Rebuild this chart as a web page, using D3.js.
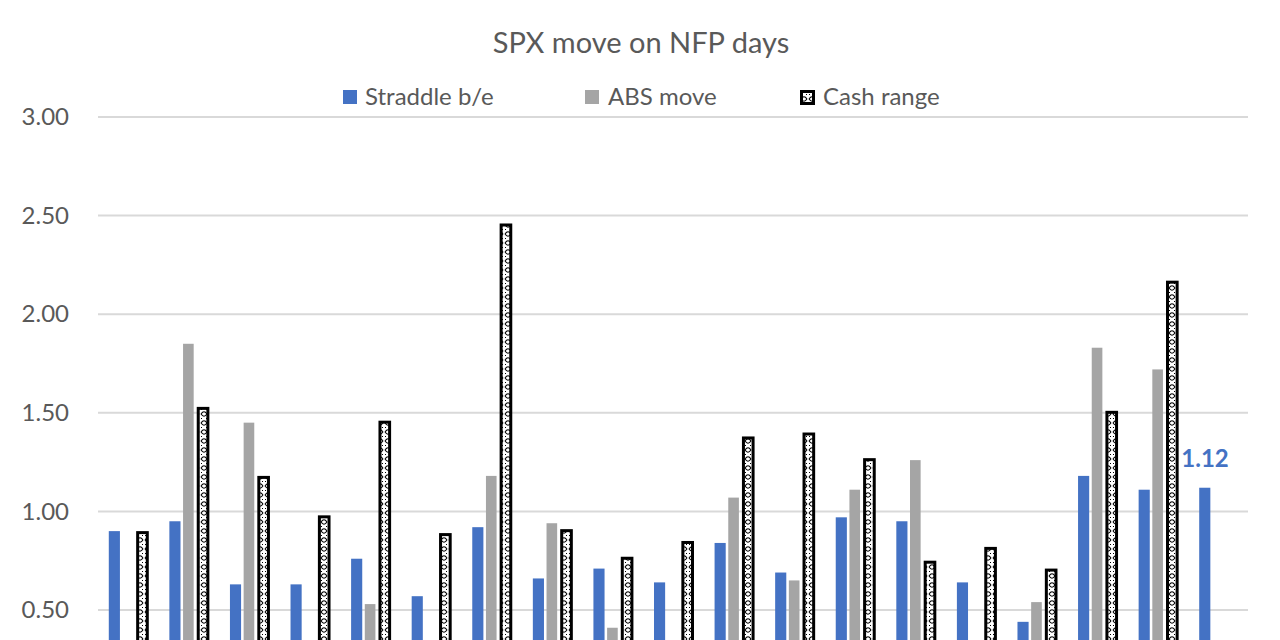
<!DOCTYPE html>
<html><head><meta charset="utf-8">
<script src="https://cdn.jsdelivr.net/npm/d3@7"></script>
<style>html,body{margin:0;padding:0;background:#fff;overflow:hidden}</style>
</head><body>
<svg id="c" width="1280" height="640"></svg>
<script>
const categories = d3.range(1, 20).map(String);
const straddle = [0.90,0.95,0.63,0.63,0.76,0.57,0.92,0.66,0.71,0.64,0.84,0.69,0.97,0.95,0.64,0.44,1.18,1.11,1.12];
const absMove  = [0.25,1.85,1.45,0.25,0.53,0.25,1.18,0.94,0.41,0.25,1.07,0.65,1.11,1.26,0.25,0.54,1.83,1.72,null];
const cashRange= [0.90,1.53,1.18,0.98,1.46,0.89,2.46,0.91,0.77,0.85,1.38,1.40,1.27,0.75,0.82,0.71,1.51,2.17,null];
const yTicks = [0.5,1.0,1.5,2.0,2.5,3.0];
const seriesNames = ["Straddle b/e","ABS move","Cash range"];
const lastLabel = "1.12";

const svg = d3.select("#c");
const font = "Lato, 'Open Sans', sans-serif";
const txt = "#595959";

const defs = svg.append("defs");
const pat = defs.append("pattern").attr("id","chain").attr("patternUnits","userSpaceOnUse")
  .attr("width",8).attr("height",9);
pat.append("rect").attr("width",8).attr("height",9).attr("fill","#fff");
pat.append("path").attr("d","M1,0 Q4,4.5 7,0 M1,9 Q4,4.5 7,9 M1,4.5 L2,4.5 M6,4.5 L7,4.5")
  .attr("stroke","#000").attr("stroke-width",1.1).attr("fill","none");

const y = d3.scaleLinear().domain([0,3]).range([708.6,117]);
const x = d3.scaleBand().domain(categories).range([98,1249]).paddingInner(0).paddingOuter(0);
const xs = d3.scaleBand().domain([0,1,2]).range([-19.5,19.5]).paddingInner(0.15);

// gridlines
svg.append("g").selectAll("line").data(yTicks).join("line")
  .attr("x1",98).attr("x2",1248).attr("y1",d=>y(d)).attr("y2",d=>y(d))
  .attr("stroke","#d9d9d9").attr("stroke-width",2);

// y axis labels
const yAxis = d3.axisLeft(y).tickValues(yTicks).tickFormat(d3.format(".2f")).tickSize(0).tickPadding(0);
const ga = svg.append("g").attr("transform","translate(69,0)").call(yAxis);
ga.select(".domain").remove();
ga.selectAll("text").attr("font-family",font).attr("font-size",24).attr("fill",txt);

const colors = ["#4472C4","#A5A5A5"];
const cx = d => x(d) + x.bandwidth()/2;

// blue
svg.append("g").selectAll("rect").data(categories.map((c,i)=>({c,v:straddle[i]})).filter(d=>d.v!=null)).join("rect")
  .attr("x",d=>cx(d.c)+xs(0)).attr("width",xs.bandwidth()-0.5)
  .attr("y",d=>y(d.v)).attr("height",d=>y(0)-y(d.v)).attr("fill",colors[0]);
// gray
svg.append("g").selectAll("rect").data(categories.map((c,i)=>({c,v:absMove[i]})).filter(d=>d.v!=null)).join("rect")
  .attr("x",d=>cx(d.c)+xs(1)).attr("width",xs.bandwidth()-1)
  .attr("y",d=>y(d.v)).attr("height",d=>y(0)-y(d.v)).attr("fill",colors[1]);
// cash
svg.append("g").selectAll("rect").data(categories.map((c,i)=>({c,v:cashRange[i]})).filter(d=>d.v!=null)).join("rect")
  .attr("x",d=>cx(d.c)+xs(2)+1.5).attr("width",xs.bandwidth()-2)
  .attr("y",d=>y(d.v)+1.5).attr("height",d=>y(0)-y(d.v))
  .attr("fill","url(#chain)").attr("stroke","#000").attr("stroke-width",3);

// last label
const li = straddle.length-1;
svg.append("text").attr("x",cx(categories[li])+xs(0)+xs.bandwidth()/2).attr("y",y(straddle[li])-21)
  .attr("text-anchor","middle").attr("font-family",font).attr("font-weight","bold")
  .attr("font-size",24).attr("fill","#4472C4").text(lastLabel);

// title
svg.append("text").attr("x",641).attr("y",53).attr("text-anchor","middle")
  .attr("font-family",font).attr("font-size",29).attr("fill",txt).text("SPX move on NFP days");

// legend
const lg = svg.append("g");
const lx = [343,585,800];
seriesNames.forEach((n,i)=>{
  const g = lg.append("g").attr("transform",`translate(${lx[i]},90)`);
  if(i<2) g.append("rect").attr("width",14).attr("height",14).attr("y",0).attr("fill",colors[i]);
  else g.append("rect").attr("x",1.5).attr("y",1.5).attr("width",12).attr("height",12)
        .attr("fill","url(#chain)").attr("stroke","#000").attr("stroke-width",3);
  g.append("text").attr("x",i===0?22:23).attr("y",15).attr("font-family",font).attr("font-size",24)
    .attr("fill",txt).text(n);
});
</script>
</body></html>
